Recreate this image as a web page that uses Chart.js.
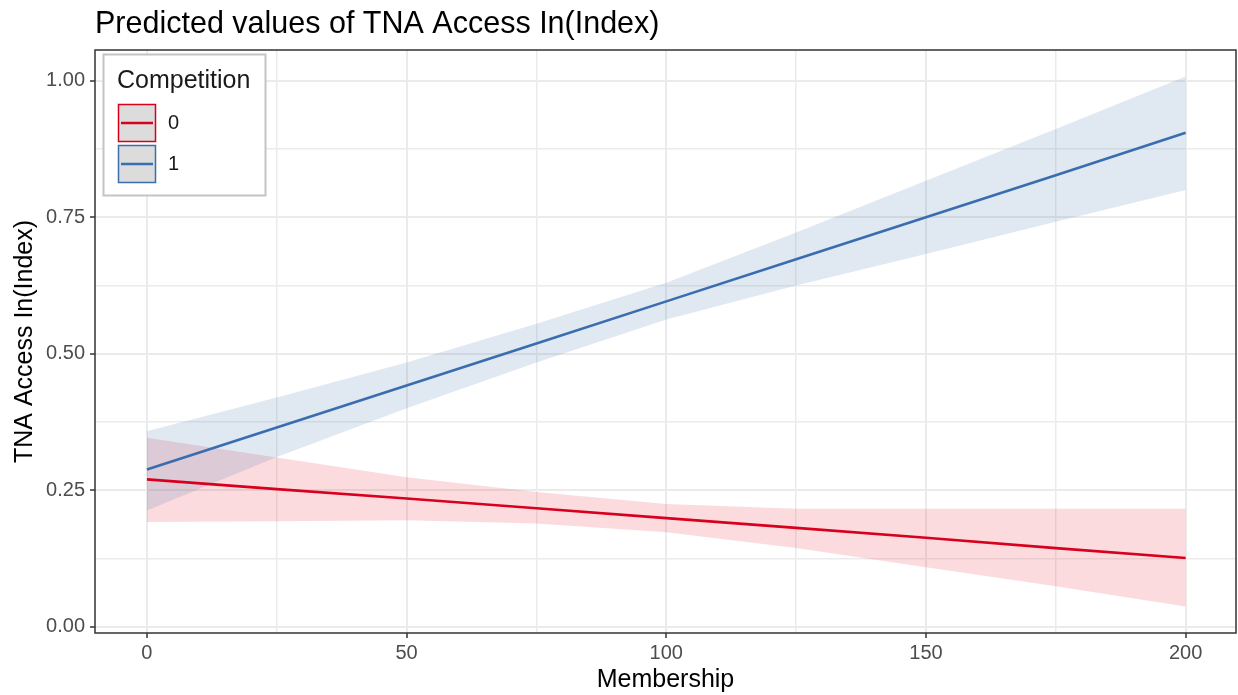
<!DOCTYPE html>
<html>
<head>
<meta charset="utf-8">
<script src="https://cdn.jsdelivr.net/npm/chart.js@4.4.1/dist/chart.umd.min.js"></script>
<style>
  html, body { margin: 0; padding: 0; background: #fff; }
</style>
</head>
<body>
<canvas id="chart" width="1238" height="695"></canvas>
<script>
// values
const membership = [0, 25, 50, 75, 100, 125, 150, 175, 200];
const fit0  = [0.270, 0.252, 0.235, 0.217, 0.199, 0.181, 0.163, 0.144, 0.126];
const low0  = [0.192, 0.193, 0.195, 0.189, 0.173, 0.144, 0.109, 0.074, 0.037];
const high0 = [0.346, 0.310, 0.274, 0.247, 0.225, 0.216, 0.216, 0.216, 0.216];
const fit1  = [0.288, 0.365, 0.442, 0.519, 0.596, 0.673, 0.750, 0.827, 0.905];
const low1  = [0.213, 0.311, 0.400, 0.484, 0.563, 0.625, 0.683, 0.742, 0.800];
const high1 = [0.358, 0.420, 0.484, 0.555, 0.630, 0.722, 0.817, 0.912, 1.008];

const xTicks = [0, 25, 50, 75, 100, 125, 150, 175, 200];
const yTicks = [0, 0.125, 0.25, 0.375, 0.5, 0.625, 0.75, 0.875, 1];
const groups = ['0', '1'];

const FONT = '"Liberation Sans", Arial, Helvetica, sans-serif';
const RED = '#D9001E';
const BLUE = '#3A6DAE';

function pts(ys) {
    return membership.map((x, i) => ({ x: x, y: ys[i] }));
}
function isMajorX(v) { return v % 50 === 0; }
function isMajorY(v) { return Math.abs(v * 4 - Math.round(v * 4)) < 1e-9; }

// panel frame, title and legend
const decor = {
    id: 'decor',
    afterDatasetsDraw(chart) {
        const { ctx, chartArea: a } = chart;
        ctx.save();
        ctx.strokeStyle = '#333333';
        ctx.lineWidth = 1.5;
        ctx.strokeRect(a.left, a.top, a.right - a.left, a.bottom - a.top);
        ctx.restore();
    },
    afterDraw(chart) {
        const ctx = chart.ctx;
        ctx.save();
        // title
        ctx.fillStyle = '#000';
        ctx.font = '30.5px ' + FONT;
        ctx.textBaseline = 'alphabetic';
        ctx.fillText('Predicted values of TNA Access In(Index)', 95, 33);

        // legend box
        ctx.fillStyle = '#fff';
        ctx.fillRect(103.5, 54.5, 162, 141);
        ctx.strokeStyle = '#C4C4C4';
        ctx.lineWidth = 2;
        ctx.strokeRect(103.5, 54.5, 162, 141);

        ctx.fillStyle = '#1A1A1A';
        ctx.font = '25px ' + FONT;
        ctx.fillText('Competition', 117, 88);

        const keyColors = [RED, BLUE];
        groups.forEach((g, i) => {
            const top = 104.5 + i * 41;
            ctx.fillStyle = '#DCDCDC';
            ctx.fillRect(118.5, top, 37, 37);
            ctx.strokeStyle = keyColors[i];
            ctx.lineWidth = 1.5;
            ctx.strokeRect(118.5, top, 37, 37);
            ctx.beginPath();
            ctx.moveTo(121, top + 18.5);
            ctx.lineTo(153, top + 18.5);
            ctx.lineWidth = 2.5;
            ctx.stroke();
            ctx.fillStyle = '#1A1A1A';
            ctx.font = '20px ' + FONT;
            ctx.textBaseline = 'middle';
            ctx.fillText(g, 168, top + 19);
            ctx.textBaseline = 'alphabetic';
        });
        ctx.restore();
    }
};

const ctx = document.getElementById('chart').getContext('2d');
const chart = new Chart(ctx, {
    type: 'line',
    data: {
        datasets: [
            { label: 'low0', data: pts(low0), borderWidth: 0, borderColor: 'transparent', pointRadius: 0, fill: false, order: 4 },
            { label: 'high0', data: pts(high0), borderWidth: 0, borderColor: 'transparent', pointRadius: 0,
              fill: '-1', backgroundColor: 'rgba(230,40,60,0.17)', order: 4 },
            { label: 'low1', data: pts(low1), borderWidth: 0, borderColor: 'transparent', pointRadius: 0, fill: false, order: 3 },
            { label: 'high1', data: pts(high1), borderWidth: 0, borderColor: 'transparent', pointRadius: 0,
              fill: '-1', backgroundColor: 'rgba(70,120,180,0.17)', order: 3 },
            { label: '0', data: pts(fit0), borderColor: RED, borderWidth: 2.6, pointRadius: 0, fill: false, order: 1 },
            { label: '1', data: pts(fit1), borderColor: BLUE, borderWidth: 2.6, pointRadius: 0, fill: false, order: 0 }
        ]
    },
    options: {
        responsive: false,
        animation: false,
        devicePixelRatio: 1,
        layout: { padding: { top: 50, right: 2, left: 0, bottom: 0 } },
        plugins: {
            legend: { display: false },
            tooltip: { enabled: false },
            title: { display: false }
        },
        scales: {
            x: {
                type: 'linear',
                min: -10,
                max: 209.7,
                afterBuildTicks: s => { s.ticks = xTicks.map(v => ({ value: v })); },
                afterFit: s => { s.height = 62; },
                ticks: {
                    callback: v => isMajorX(v) ? String(v) : '',
                    font: { family: FONT, size: 20 },
                    color: '#4D4D4D',
                    padding: 3,
                    maxRotation: 0,
                    autoSkip: false
                },
                grid: {
                    color: '#EBEBEB',
                    lineWidth: c => (c.tick && isMajorX(c.tick.value)) ? 2 : 1.5,
                    tickLength: 5,
                    tickWidth: 1.5,
                    tickColor: c => (c.tick && isMajorX(c.tick.value)) ? '#333333' : 'rgba(0,0,0,0)'
                },
                border: { display: false },
                title: {
                    display: true,
                    text: 'Membership',
                    color: '#000',
                    font: { family: FONT, size: 25 },
                    padding: { top: 0, bottom: 0 }
                }
            },
            y: {
                min: -0.0115,
                max: 1.0565,
                afterBuildTicks: s => { s.ticks = yTicks.map(v => ({ value: v })); },
                afterFit: s => { s.width = 95; },
                ticks: {
                    callback: v => isMajorY(v) ? v.toFixed(2) : '',
                    font: { family: FONT, size: 20 },
                    color: '#4D4D4D',
                    padding: 5,
                    autoSkip: false
                },
                grid: {
                    color: '#EBEBEB',
                    lineWidth: c => (c.tick && isMajorY(c.tick.value)) ? 2 : 1.5,
                    tickLength: 5,
                    tickWidth: 1.5,
                    tickColor: c => (c.tick && isMajorY(c.tick.value)) ? '#333333' : 'rgba(0,0,0,0)'
                },
                border: { display: false },
                title: {
                    display: true,
                    text: 'TNA Access In(Index)',
                    color: '#000',
                    font: { family: FONT, size: 25 },
                    padding: { top: 10, bottom: 0 }
                }
            }
        }
    },
    plugins: [decor]
});
</script>
</body>
</html>
